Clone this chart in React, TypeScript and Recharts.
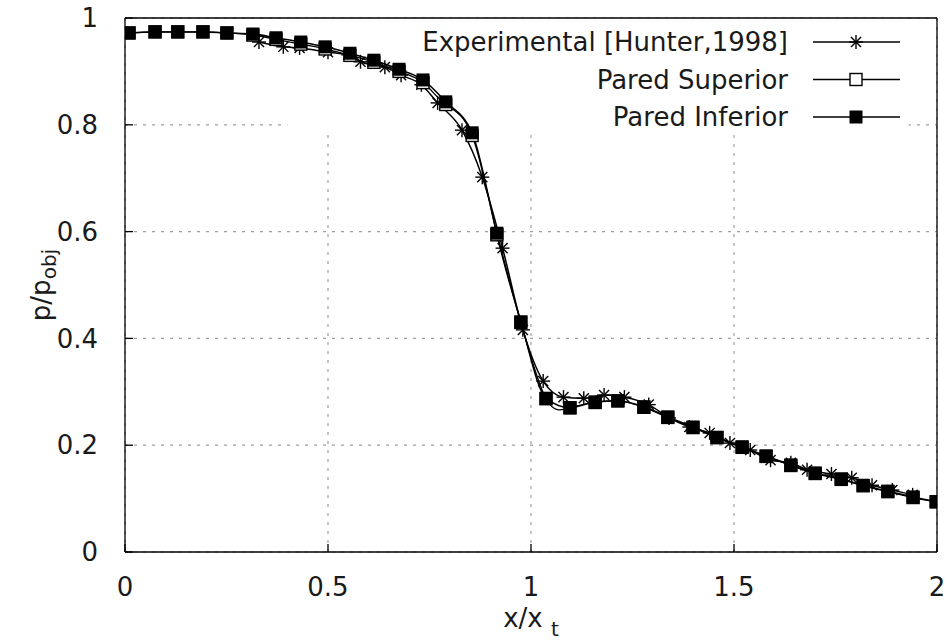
import React from 'react';
import {
  LineChart,
  Line,
  XAxis,
  YAxis,
  CartesianGrid,
  ReferenceArea,
  Legend,
} from 'recharts';

// x/x_t positions of the wall taps (both walls share them)
const wallX = [
  0.01, 0.074, 0.13, 0.192, 0.251, 0.315, 0.372, 0.433, 0.493, 0.554, 0.613,
  0.675, 0.734, 0.79, 0.855, 0.916, 0.975, 1.037, 1.096, 1.158, 1.214, 1.278,
  1.337, 1.399, 1.458, 1.52, 1.579, 1.64, 1.7, 1.764, 1.818, 1.879, 1.941, 1.998,
];

const inferiorP = [
  0.972, 0.974, 0.974, 0.974, 0.972, 0.97, 0.963, 0.955, 0.946, 0.934, 0.921,
  0.904, 0.884, 0.843, 0.785, 0.597, 0.431, 0.288, 0.27, 0.281, 0.283, 0.272,
  0.253, 0.234, 0.215, 0.197, 0.18, 0.163, 0.148, 0.137, 0.125, 0.114, 0.103, 0.094,
];

const superiorP = [
  0.972, 0.974, 0.974, 0.974, 0.972, 0.968, 0.96, 0.951, 0.942, 0.93, 0.917,
  0.9, 0.879, 0.838, 0.78, 0.594, 0.43, 0.287, 0.27, 0.28, 0.283, 0.271,
  0.252, 0.233, 0.214, 0.196, 0.179, 0.162, 0.147, 0.136, 0.124, 0.113, 0.102, 0.094,
];

// Hunter (1998) measurements
const expX = [
  0.33, 0.39, 0.43, 0.5, 0.55, 0.58, 0.64, 0.68, 0.73, 0.77, 0.83, 0.88, 0.93,
  0.98, 1.03, 1.08, 1.13, 1.18, 1.23, 1.29, 1.34, 1.39, 1.44, 1.49, 1.54, 1.59,
  1.64, 1.68, 1.74, 1.79, 1.84, 1.89, 1.94,
];
const expP = [
  0.955, 0.946, 0.944, 0.936, 0.931, 0.918, 0.908, 0.893, 0.875, 0.841, 0.79,
  0.702, 0.569, 0.416, 0.32, 0.29, 0.288, 0.294, 0.29, 0.276, 0.251, 0.234,
  0.223, 0.204, 0.191, 0.172, 0.167, 0.154, 0.146, 0.139, 0.125, 0.116, 0.107,
];

const seriesNames = ['Experimental [Hunter,1998]', 'Pared Superior', 'Pared Inferior'];

const xTicks = [0, 0.5, 1, 1.5, 2];
const yTicks = [0, 0.2, 0.4, 0.6, 0.8, 1];

const inferior = wallX.map((x, i) => ({ x, p: inferiorP[i] }));
const superior = wallX.map((x, i) => ({ x, p: superiorP[i] }));
const experimental = expX.map((x, i) => ({ x, p: expP[i] }));

const FONT = '"DejaVu Sans", sans-serif';
const INK = '#000';
const TEXT = '#1a1a1a';

const Star = ({ cx, cy, r = 7 }: { cx: number; cy: number; r?: number }) => {
  const d = r * 0.72;
  return (
    <g stroke={INK} strokeWidth={1.4}>
      <line x1={cx - r} y1={cy} x2={cx + r} y2={cy} />
      <line x1={cx} y1={cy - r} x2={cx} y2={cy + r} />
      <line x1={cx - d} y1={cy - d} x2={cx + d} y2={cy + d} />
      <line x1={cx - d} y1={cy + d} x2={cx + d} y2={cy - d} />
    </g>
  );
};

const OpenSquare = ({ cx, cy }: { cx: number; cy: number }) => (
  <rect x={cx - 6} y={cy - 6} width={12} height={12} fill="#fff" stroke={INK} strokeWidth={1.4} />
);

const FilledSquare = ({ cx, cy }: { cx: number; cy: number }) => (
  <rect x={cx - 6.5} y={cy - 6.5} width={13} height={13} fill={INK} />
);

const starDot = (props: any) =>
  props.cx == null ? null : <Star key={`s-${props.index}`} cx={props.cx} cy={props.cy} />;
const openDot = (props: any) =>
  props.cx == null ? null : <OpenSquare key={`o-${props.index}`} cx={props.cx} cy={props.cy} />;
const filledDot = (props: any) =>
  props.cx == null ? null : <FilledSquare key={`f-${props.index}`} cx={props.cx} cy={props.cy} />;

const markers = [Star, OpenSquare, FilledSquare];

const KeyBox = () => (
  <svg width={949} height={140} style={{ display: 'block' }}>
    {seriesNames.map((name, i) => {
      const y = 42 + i * 37.5;
      const Marker = markers[i];
      return (
        <g key={name}>
          <text
            x={788}
            y={y}
            textAnchor="end"
            dominantBaseline="central"
            fontFamily={FONT}
            fontSize={26}
            fill={TEXT}
          >
            {name}
          </text>
          <line x1={813} y1={y} x2={900} y2={y} stroke={INK} strokeWidth={1.6} />
          <Marker cx={856} cy={y} />
        </g>
      );
    })}
  </svg>
);

const YTitle = () => (
  <text
    transform="translate(50, 285) rotate(-90)"
    textAnchor="middle"
    fontFamily={FONT}
    fontSize={26}
    fill={TEXT}
  >
    <tspan>p/p</tspan>
    <tspan dy={6} fontSize={20}>obj</tspan>
  </text>
);

const XTitle = () => (
  <text x={531} y={627} textAnchor="middle" fontFamily={FONT} fontSize={26} fill={TEXT}>
    <tspan>x/x </tspan>
    <tspan dy={9} fontSize={20}>t</tspan>
  </text>
);

const tickStyle = { fontFamily: FONT, fontSize: 26, fill: TEXT };

export default function App() {
  return (
    <div style={{ position: 'absolute', left: 0, top: 0, background: '#fff' }}>
      <LineChart
        width={949}
        height={640}
        margin={{ top: 17, right: 11, bottom: 0, left: 0 }}
      >
        <CartesianGrid stroke="#a0a0a0" strokeWidth={1.2} strokeDasharray="3 6" />
        {/* key area keeps the grid clear behind the labels */}
        <ReferenceArea x1={0.4} x2={1.93} y1={0.785} y2={1} fill="#fff" fillOpacity={1} stroke="none" />
        <XAxis
          type="number"
          dataKey="x"
          domain={[0, 2]}
          ticks={xTicks}
          allowDataOverflow
          height={88}
          tickSize={-8}
          tickMargin={34}
          tick={tickStyle}
          stroke={INK}
          strokeWidth={1.3}
          label={<XTitle />}
        />
        <XAxis
          xAxisId="top"
          orientation="top"
          type="number"
          domain={[0, 2]}
          ticks={xTicks}
          height={1}
          tickSize={-8}
          tick={() => <g />}
          stroke={INK}
          strokeWidth={1.3}
        />
        <YAxis
          type="number"
          domain={[0, 1]}
          ticks={yTicks}
          allowDataOverflow
          width={125}
          tickSize={-8}
          tickMargin={35}
          tick={tickStyle}
          stroke={INK}
          strokeWidth={1.3}
          label={<YTitle />}
        />
        <YAxis
          yAxisId="right"
          orientation="right"
          type="number"
          domain={[0, 1]}
          ticks={yTicks}
          width={1}
          tickSize={-8}
          tick={() => <g />}
          stroke={INK}
          strokeWidth={1.3}
        />
        <Line
          data={experimental}
          dataKey="p"
          name={seriesNames[0]}
          type="monotone"
          stroke={INK}
          strokeWidth={1.5}
          dot={starDot}
          activeDot={false}
          isAnimationActive={false}
        />
        <Line
          data={superior}
          dataKey="p"
          name={seriesNames[1]}
          type="natural"
          stroke={INK}
          strokeWidth={1.3}
          dot={openDot}
          activeDot={false}
          isAnimationActive={false}
        />
        <Line
          data={inferior}
          dataKey="p"
          name={seriesNames[2]}
          type="monotone"
          stroke={INK}
          strokeWidth={1.5}
          dot={filledDot}
          activeDot={false}
          isAnimationActive={false}
        />
        <Legend
          layout="horizontal"
          verticalAlign="middle"
          align="center"
          content={() => <KeyBox />}
          wrapperStyle={{ left: 0, top: 0, width: 949, height: 140 }}
        />
      </LineChart>
    </div>
  );
}
